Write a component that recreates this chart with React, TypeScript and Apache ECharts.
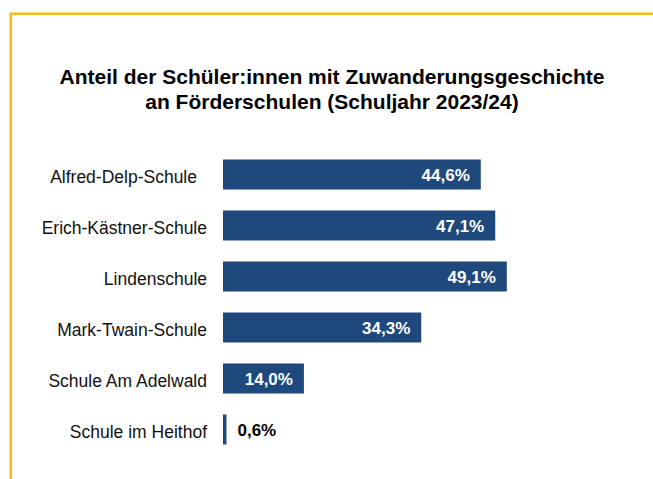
import React, { useEffect, useRef } from "react";
import * as echarts from "echarts";

const categories = [
  "Alfred-Delp-Schule",
  "Erich-Kästner-Schule",
  "Lindenschule",
  "Mark-Twain-Schule",
  "Schule Am Adelwald",
  "Schule im Heithof",
];
const values = [44.6, 47.1, 49.1, 34.3, 14.0, 0.6];
const titleLines = [
  "Anteil der Schüler:innen mit Zuwanderungsgeschichte",
  "an Förderschulen (Schuljahr 2023/24)",
];

const fmt = (v: number) => v.toFixed(1).replace(".", ",") + "%";

export default function App() {
  const ref = useRef<HTMLDivElement>(null);
  useEffect(() => {
    document.body.style.margin = "0";
    if (!ref.current) return;
    const chart = echarts.init(ref.current, null, { renderer: "svg" });
    const font = "Liberation Sans, Arial, sans-serif";
    chart.setOption({
      animation: false,
      backgroundColor: "#ffffff",
      title: {
        text: titleLines.join("\n"),
        left: 327,
        top: 59,
        textAlign: "center",
        textStyle: {
          fontFamily: font,
          fontSize: 21,
          fontWeight: "bold",
          color: "#000000",
          lineHeight: 25,
        },
      },
      graphic: [
        {
          type: "polyline",
          shape: { points: [[10.8, 479], [10.8, 13.8], [653, 13.8]] },
          style: { stroke: "#FDBA1B", lineWidth: 2.6, fill: "none" },
          silent: true,
        },
      ],
      grid: { left: 223, top: 149, width: 289, height: 306, containLabel: false },
      xAxis: {
        type: "value",
        min: 0,
        max: 50,
        show: false,
      },
      yAxis: {
        type: "category",
        data: categories,
        inverse: true,
        axisLine: { show: false },
        axisTick: { show: false },
        splitLine: { show: false },
        axisLabel: {
          margin: 16,
          fontFamily: font,
          fontSize: 17.5,
          color: "#111111",
          padding: [5, 0, 0, 0],
          formatter: (v: string, i: number) => (i === 0 ? "{a|" + v + "}" : v),
          rich: {
            a: { fontFamily: font, fontSize: 17.5, color: "#111111", padding: [0, 10, 0, 0] },
          },
        },
      },
      series: [
        {
          type: "bar",
          barWidth: 30,
          itemStyle: { color: "#1F497D" },
          data: values.map((v) =>
            v < 5
              ? {
                  value: v,
                  label: { position: "right", distance: 11, color: "#000000" },
                }
              : { value: v }
          ),
          label: {
            show: true,
            position: "insideRight",
            distance: 11,
            offset: [0, 1],
            fontFamily: font,
            fontSize: 17,
            fontWeight: "bold",
            color: "#ffffff",
            formatter: (p: any) => fmt(p.value),
          },
        },
      ],
    });
    return () => chart.dispose();
  }, []);
  return <div ref={ref} style={{ width: 653, height: 479 }} />;
}
